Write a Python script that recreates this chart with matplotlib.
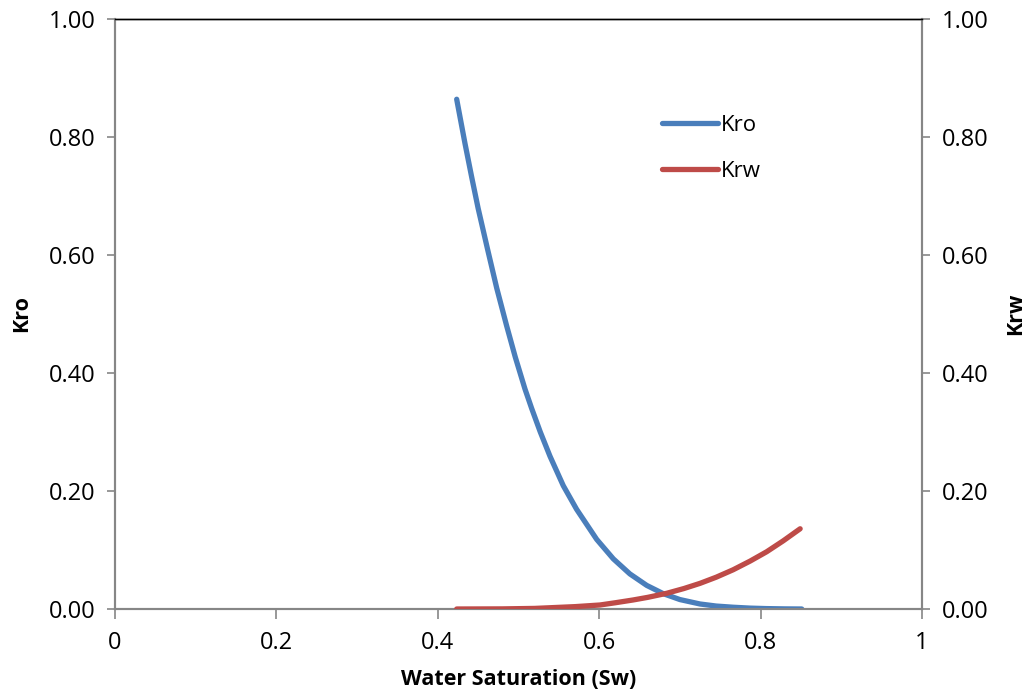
import matplotlib
matplotlib.use("Agg")
import matplotlib.pyplot as plt
from matplotlib.lines import Line2D

plt.rcParams['font.family'] = ['Open Sans', 'DejaVu Sans']

# Data
sw_kro = [0.4234, 0.4337, 0.4420, 0.4500, 0.4618, 0.4730, 0.4853, 0.4960, 0.5080,
          0.5163, 0.5270, 0.5390, 0.5555, 0.5720, 0.5969, 0.6175, 0.6380, 0.6589,
          0.6794, 0.7000, 0.7249, 0.7450, 0.7660, 0.7870, 0.8070, 0.8300, 0.8510]
kro = [0.864, 0.789, 0.732, 0.679, 0.609, 0.544, 0.480, 0.427, 0.373,
       0.340, 0.300, 0.259, 0.209, 0.169, 0.118, 0.085, 0.0595, 0.040,
       0.026, 0.016, 0.0085, 0.005, 0.003, 0.0015, 0.0007, 0.0002, 0.0]

sw_krw = [0.4234, 0.4800, 0.5200, 0.5700, 0.6010, 0.6200, 0.6420, 0.6600,
          0.6836, 0.7050, 0.7250, 0.7450, 0.7660, 0.7870, 0.8075, 0.8280, 0.8490]
krw = [0.0, 0.0002, 0.0010, 0.0040, 0.0068, 0.0106, 0.0153, 0.0197,
       0.0266, 0.0347, 0.0435, 0.0539, 0.0665, 0.0812, 0.0970, 0.1155, 0.1360]

x_ticks = [0, 0.2, 0.4, 0.6, 0.8, 1.0]
x_labels = ["0", "0.2", "0.4", "0.6", "0.8", "1"]
y_ticks = [0.0, 0.2, 0.4, 0.6, 0.8, 1.0]
y_labels = ["0.00", "0.20", "0.40", "0.60", "0.80", "1.00"]

blue = "#4A7EBB"
red = "#BE4B48"
axis_gray = "#868686"
TICK_FS = 17
LABEL_FS = 15.5

fig = plt.figure(figsize=(10.35, 6.94), dpi=100)
ax = fig.add_axes([115/1035, 1 - 609/694, (922-115)/1035, (609-19)/694])
ax2 = ax.twinx()

ax.plot(sw_kro, kro, color=blue, lw=3.8, solid_capstyle='round',
        solid_joinstyle='round', zorder=3)
ax2.plot(sw_krw, krw, color=red, lw=3.8, solid_capstyle='round',
         solid_joinstyle='round', zorder=3)

for a in (ax, ax2):
    a.set_xlim(0, 1)
    a.set_ylim(0, 1)
    a.set_yticks(y_ticks)
    a.set_yticklabels(y_labels, fontsize=TICK_FS)
    for s in ('left', 'right', 'bottom'):
        a.spines[s].set_color(axis_gray)
        a.spines[s].set_linewidth(1.5)
    a.spines['top'].set_color('black')
    a.spines['top'].set_linewidth(1.0)
    a.tick_params(axis='y', direction='out', length=6, width=1.2, color=axis_gray,
                  pad=8)

ax.set_xticks(x_ticks)
ax.set_xticklabels(x_labels, fontsize=TICK_FS)
ax.tick_params(axis='x', direction='out', length=7, width=1.2, color=axis_gray, pad=9)

ax.set_ylabel("Kro", fontsize=LABEL_FS, fontweight='bold', labelpad=12)
ax2.set_ylabel("Krw", fontsize=LABEL_FS, fontweight='bold', labelpad=12)
ax.set_xlabel("Water Saturation (Sw)", fontsize=LABEL_FS, fontweight='bold', labelpad=10)

handles = [Line2D([], [], color=blue, lw=3.8, solid_capstyle='round'),
           Line2D([], [], color=red, lw=3.8, solid_capstyle='round')]
fig.legend(handles, ["Kro", "Krw"], loc='upper left',
           bbox_to_anchor=(651/1035, 1 - 104/694), frameon=False, borderpad=0,
           fontsize=16, handlelength=2.5, handletextpad=0.15, labelspacing=1.1)

fig.savefig("out.png", dpi=100)
